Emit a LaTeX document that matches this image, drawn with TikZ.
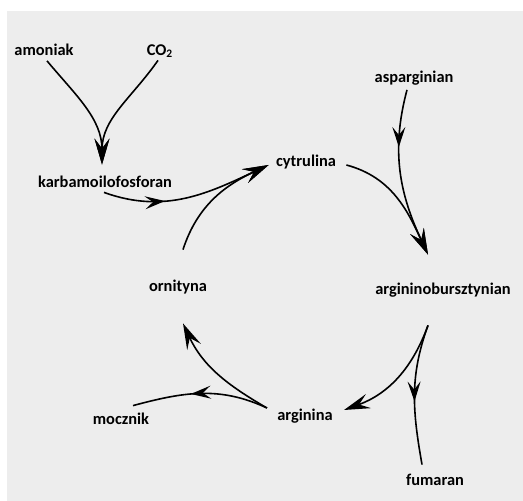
\documentclass[tikz,border=0pt]{standalone}
\usepackage{fontspec}
\setmainfont{Carlito}
\usepackage{tikz}
\usetikzlibrary{arrows.meta, calc, decorations.markings}

\definecolor{bggray}{HTML}{EDEDED}

\tikzset{
  lbl/.style={font=\fontsize{8.2}{9.8}\selectfont\bfseries, inner sep=0pt, text height=6pt, text depth=1.5pt},
  flow/.style={line width=0.8pt, -{Stealth[length=13pt, width=7.5pt, inset=5pt]}},
  branch/.style={line width=0.8pt, postaction={decorate},
    decoration={markings, mark=at position #1 with {\arrow{Stealth[length=10pt, width=6.5pt, inset=4pt]}}}},
}

\begin{document}
\begin{tikzpicture}[x=0.5pt, y=0.5pt]
\useasboundingbox (0,0) rectangle (523,501);
\fill[white] (0,0) rectangle (523,501);
\fill[bggray] (7,0) rectangle (523,490);

% substrates
\node[lbl] (amoniak) at (44,450) {amoniak};
\node[lbl] (co2) at (160,450) {CO\textsubscript{2}};
\node[lbl] (karb) at (105,318) {karbamoilofosforan};
\node[lbl] (aspar) at (414,423) {asparginian};

% cycle
\node[lbl] (cytr) at (306,339) {cytrulina};
\node[lbl] (argb) at (443,211) {argininobursztynian};
\node[lbl] (argin) at (305,85) {arginina};
\node[lbl] (ornit) at (178,214) {ornityna};

% products
\node[lbl] (mocz) at (121,81) {mocznik};
\node[lbl] (fum) at (435,20) {fumaran};

% into karbamoilofosforan
\draw[flow] ($(amoniak.south)+(3,-2)$) to[out=-50, in=90] ($(karb.north)+(-3,10.5)$);
\draw[flow] ($(co2.south)+(-2,-1.5)$) to[out=-125, in=90] ($(karb.north)+(-3,10.5)$);

% to cytrulina
\draw[flow, branch=0.36] ($(karb.south)+(-1,-1.5)$) to[out=-20, in=205] ($(cytr.west)+(-7,-3)$);
\draw[flow] ($(ornit.north)+(5,29.5)$) to[out=72, in=205] ($(cytr.west)+(-7,-3)$);

% to argininobursztynian
\draw[flow] ($(cytr.east)+(10,-3)$) to[out=-15, in=115] ($(argb.north)+(-15,27.5)$);
\draw[flow, branch=0.34] ($(aspar.south)+(-7,-4)$) to[out=-105, in=115] ($(argb.north)+(-15,27.5)$);

% to arginina and fumaran
\draw[flow] ($(argb.south)+(-15,-27.5)$) to[out=-110, in=20] ($(argin.east)+(11,6)$);
\draw[branch=0.55] ($(argb.south)+(-15,-27.5)$) to[out=-110, in=100] ($(fum.north)+(-13,8.5)$);

% to ornityna and mocznik
\draw[flow] ($(argin.west)+(-10,8)$) to[out=150, in=-65] ($(ornit.south)+(5,-28.5)$);
\draw[branch=0.57] ($(argin.west)+(-10,8)$) to[out=155, in=15] ($(mocz.north)+(12,6.5)$);
\end{tikzpicture}
\end{document}
